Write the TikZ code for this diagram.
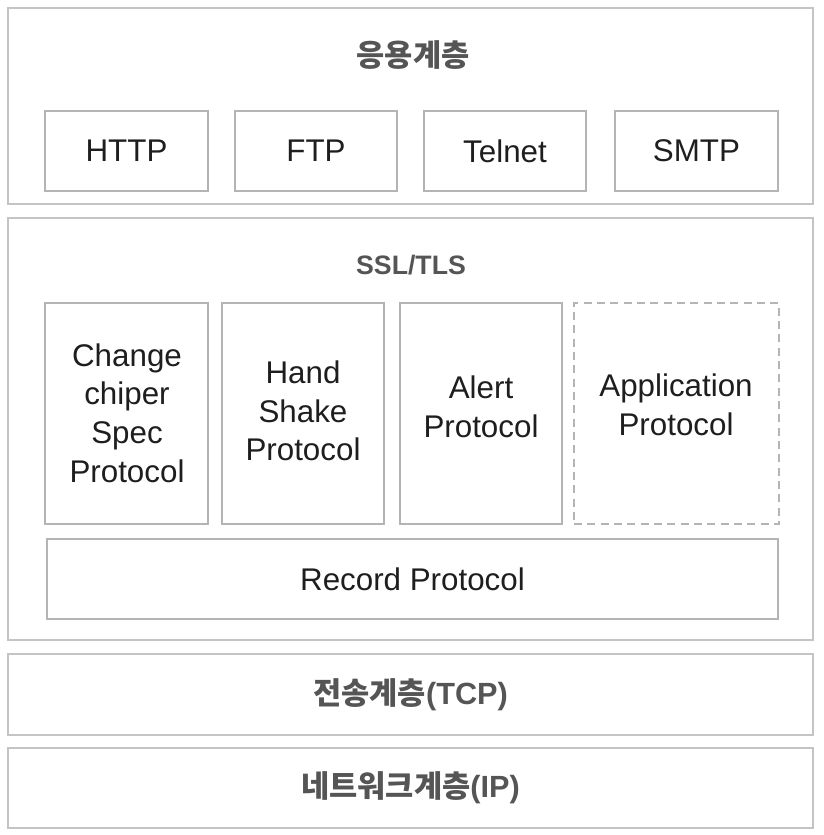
\documentclass[tikz,border=0pt]{standalone}
\usepackage{fontspec}
\setmainfont{Liberation Sans}
\newfontfamily\kr{Noto Sans CJK KR}
\usetikzlibrary{fit}
\definecolor{outerline}{HTML}{C4C4C4}
\definecolor{innerline}{HTML}{B4B4B4}
\definecolor{titlegray}{HTML}{555555}
\definecolor{bodytext}{HTML}{1E1E1E}
\tikzset{
  layerbox/.style={draw=outerline, line width=1.5pt, inner sep=0pt, fill=white},
  protobox/.style={draw=innerline, line width=1.3pt, inner sep=0pt, fill=white},
  dashbox/.style={draw=innerline, line width=1.3pt, dash pattern=on 6pt off 4pt, inner sep=0pt},
  bodylabel/.style={font=\fontsize{23.5}{29}\selectfont, text=bodytext, align=center, inner sep=0pt},
  titlelabel/.style={font=\fontsize{23}{28}\selectfont\bfseries, text=titlegray, inner sep=0pt}
}
\begin{document}
\begin{tikzpicture}[x=0.75pt,y=-0.75pt]
\useasboundingbox (0,0) rectangle (824,835);
\fill[white] (0,0) rectangle (824,835);
% application layer
\node[layerbox, fit={(8,8) (813,204)}] (applayer) {};
\node[titlelabel] (apptitle) at (413,55) {\kr 응용계층};
\node[protobox, fit={(45,111) (208,191)}] (http) {};
\node[protobox, fit={(235,111) (397,191)}] (ftp) {};
\node[protobox, fit={(424,111) (586,191)}] (telnet) {};
\node[protobox, fit={(615,111) (778,191)}] (smtp) {};
\node[bodylabel] at (http.center) {HTTP};
\node[bodylabel] at (ftp.center) {FTP};
\node[bodylabel] at (telnet.center) {Telnet};
\node[bodylabel] at (smtp.center) {SMTP};
% SSL/TLS layer
\node[layerbox, fit={(8,218) (813,640)}] (ssllayer) {};
\node[titlelabel, font=\fontsize{20}{24}\selectfont\bfseries] (ssltitle) at (411,265) {SSL/TLS};
\node[protobox, fit={(45,303) (208,524)}] (ccs) {};
\node[protobox, fit={(222,303) (384,524)}] (hs) {};
\node[protobox, fit={(400,303) (562,524)}] (alert) {};
\node[dashbox, fit={(574,303) (779,524)}] (appproto) {};
\node[protobox, fit={(47,539) (778,619)}] (record) {};
\node[bodylabel] at (127,413) {Change\\chiper\\Spec\\Protocol};
\node[bodylabel] at (303,411) {Hand\\Shake\\Protocol};
\node[bodylabel] at (481,407) {Alert\\Protocol};
\node[bodylabel] at (676,405) {Application\\Protocol};
\node[bodylabel] at (record.center) {Record Protocol};
% transport layer
\node[layerbox, fit={(8,654) (813,735)}] (tcplayer) {};
\node[titlelabel] at (tcplayer.center) {{\kr 전송계층}(TCP)};
% network layer
\node[layerbox, fit={(8,748) (813,828)}] (iplayer) {};
\node[titlelabel] at (iplayer.center) {{\kr 네트워크계층}(IP)};
\end{tikzpicture}
\end{document}
